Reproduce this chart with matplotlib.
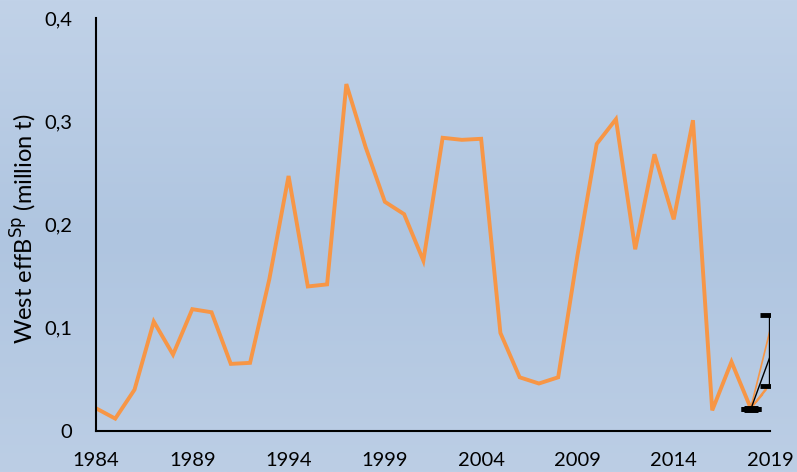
import numpy as np
import matplotlib.pyplot as plt
from matplotlib.colors import LinearSegmentedColormap

years = np.arange(1984, 2019)
biomass = [0.022, 0.012, 0.040, 0.106, 0.074, 0.118, 0.115, 0.065, 0.066, 0.147,
           0.247, 0.140, 0.142, 0.336, 0.275, 0.222, 0.210, 0.165, 0.284, 0.282,
           0.283, 0.095, 0.052, 0.046, 0.052, 0.170, 0.278, 0.302, 0.176, 0.268,
           0.205, 0.301, 0.020, 0.067, 0.022]

# thin projection strands from 2018 into 2019
proj_x = [2019.1, 2018.95, 2018.8, 2018.6]
proj_y = [0.105, 0.045, 0.040, 0.035]

# assessment points with error bars
est_years = [2018, 2019]
est_vals = [0.021, 0.072]
est_lo = [0.021, 0.044]
est_hi = [0.021, 0.112]

yticks = [0, 0.1, 0.2, 0.3, 0.4]
ytick_labels = ['0', '0,1', '0,2', '0,3', '0,4']
xticks = [1984, 1989, 1994, 1999, 2004, 2009, 2014, 2019]

plt.rcParams['font.family'] = ['Lato', 'DejaVu Sans']

fig = plt.figure(figsize=(7.97, 4.72), dpi=100)

# background gradient
bg = fig.add_axes([0, 0, 1, 1], zorder=0)
cmap = LinearSegmentedColormap.from_list('bg', ['#c1d2e8', '#afc5e0', '#bccee5'])
grad = np.linspace(0, 1, 256).reshape(-1, 1)
bg.imshow(grad, aspect='auto', cmap=cmap, extent=[0, 1, 0, 1])
bg.set_axis_off()

ax = fig.add_axes([96 / 797, 41 / 472, 674 / 797, 413 / 472], zorder=1)
ax.patch.set_alpha(0)

ax.plot(years, biomass, color='#f79646', lw=2.8, solid_joinstyle='miter')
for px, py in zip(proj_x, proj_y):
    ax.plot([years[-1], px], [biomass[-1], py], color='#f79646', lw=1.2)

yerr = [np.array(est_vals) - np.array(est_lo), np.array(est_hi) - np.array(est_vals)]
ax.errorbar(est_years, est_vals, yerr=yerr, color='black', lw=1.0,
            elinewidth=2.4, capsize=7, capthick=3.5)
ax.plot([2018 - 0.36, 2018 + 0.36], [0.021, 0.021], color='black', lw=5,
        solid_capstyle='butt')

ax.set_xlim(1984, 2019)
ax.set_ylim(0, 0.4)
ax.set_xticks(xticks)
ax.set_yticks(yticks)
ax.set_yticklabels(ytick_labels)
ax.tick_params(length=0, labelsize=14.5)
ax.tick_params(axis='y', pad=17)
ax.tick_params(axis='x', pad=15)
for s in ['top', 'right']:
    ax.spines[s].set_visible(False)
for s in ['left', 'bottom']:
    ax.spines[s].set_linewidth(1.5)
ax.set_ylabel('West effB$^{\\mathrm{Sp}}$ (million t)', fontsize=17)
ax.yaxis.set_label_coords(-0.085, 0.49)

fig.savefig('out.png', dpi=100)
